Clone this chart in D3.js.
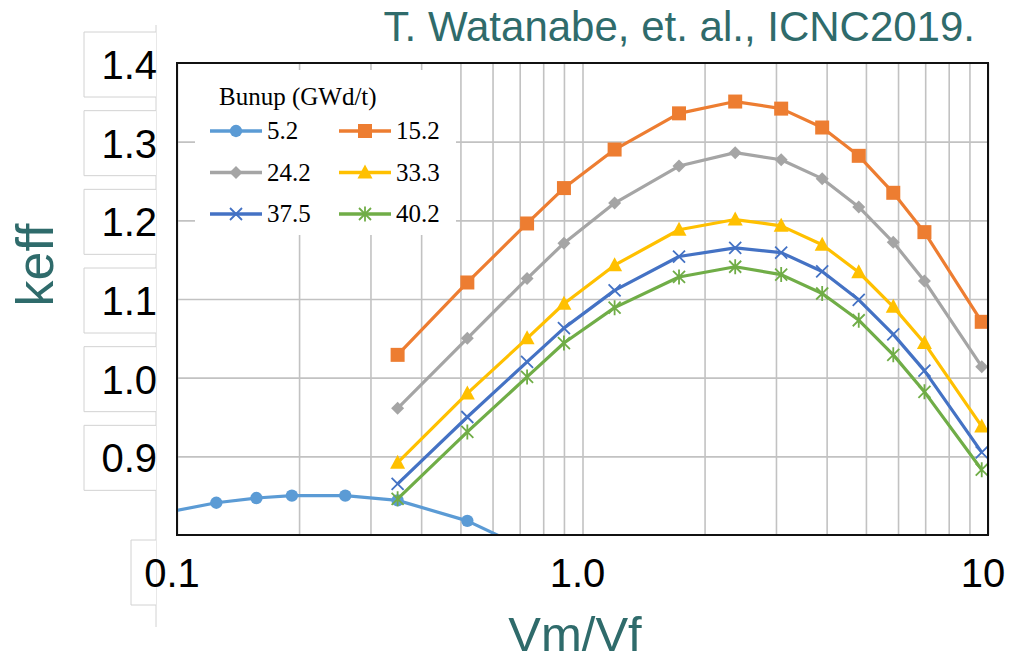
<!DOCTYPE html>
<html>
<head>
<meta charset="utf-8">
<script src="https://cdn.jsdelivr.net/npm/d3@7"></script>
<style>
  body { margin: 0; background: #fff; }
  svg { display: block; }
  .grid line { stroke: #c2c2c2; stroke-width: 1.6; }
  .grid path { display: none; }
  .tick-label { font-family: "Liberation Sans", Arial, sans-serif; font-size: 40px; fill: #000; }
  .axis-title { font-family: "Liberation Sans", Arial, sans-serif; fill: #2f6b6b; }
  .legend text { font-family: "Liberation Serif", "Times New Roman", serif; fill: #000; }
</style>
</head>
<body>
<div id="chart"></div>
<script>
// Vm/Vf sample points (shared by burnups >= 15.2)
var vmvf = [0.35, 0.52, 0.73, 0.90, 1.2, 1.73, 2.38, 3.09, 3.9, 4.8, 5.84, 6.97, 9.65];
// 5.2 GWd/t was run on its own grid
var vmvf52 = [0.095, 0.125, 0.157, 0.192, 0.26, 0.35, 0.52, 0.73];

var keff52   = [0.829, 0.841, 0.847, 0.850, 0.850, 0.844, 0.818, 0.782];
var keff152  = [1.029, 1.121, 1.196, 1.241, 1.290, 1.336, 1.351, 1.342, 1.318, 1.282, 1.235, 1.185, 1.071];
var keff242  = [0.961, 1.050, 1.126, 1.171, 1.222, 1.269, 1.286, 1.277, 1.253, 1.217, 1.172, 1.123, 1.014];
var keff333  = [0.892, 0.980, 1.050, 1.094, 1.143, 1.188, 1.201, 1.193, 1.169, 1.134, 1.090, 1.044, 0.938];
var keff375  = [0.865, 0.950, 1.020, 1.063, 1.111, 1.154, 1.165, 1.159, 1.135, 1.099, 1.055, 1.009, 0.905];
var keff402  = [0.846, 0.931, 1.001, 1.044, 1.089, 1.128, 1.141, 1.131, 1.107, 1.073, 1.029, 0.982, 0.883];

var burnups = ["5.2", "15.2", "24.2", "33.3", "37.5", "40.2"];
var yTickValues = [0.9, 1.0, 1.1, 1.2, 1.3, 1.4];
var xTickValues = [0.1, 1, 10];
var xTickText = ["0.1", "1.0", "10"];

var series = [
    { name: burnups[0], xs: vmvf52, ys: keff52,  color: "#5b9bd5", marker: "circle" },
    { name: burnups[1], xs: vmvf,   ys: keff152, color: "#ed7d31", marker: "square" },
    { name: burnups[2], xs: vmvf,   ys: keff242, color: "#a5a5a5", marker: "diamond" },
    { name: burnups[3], xs: vmvf,   ys: keff333, color: "#ffc000", marker: "triangle" },
    { name: burnups[4], xs: vmvf,   ys: keff375, color: "#4472c4", marker: "x" },
    { name: burnups[5], xs: vmvf,   ys: keff402, color: "#70ad47", marker: "star" }
];

var W = 1011, H = 664;
var plot = { left: 177, right: 988, top: 63, bottom: 535 };

var svg = d3.select("#chart").append("svg")
    .attr("width", W).attr("height", H);

var x = d3.scaleLog().domain([0.1, 10]).range([plot.left, plot.right]);
var y = d3.scaleLinear().domain([0.8, 1.4]).range([plot.bottom, plot.top]);

// marker shapes, centred on 0,0
function markerPath(type) {
    switch (type) {
        case "circle": return d3.symbol(d3.symbolCircle, 120)();
        case "square": return "M-7,-7h14v14h-14Z";
        case "diamond": return "M0,-6.5L6.5,0L0,6.5L-6.5,0Z";
        case "triangle": return "M0,-8L7.5,6L-7.5,6Z";
        case "x": return "M-6,-6L6,6M-6,6L6,-6";
        case "star": return "M-6,-6L6,6M-6,6L6,-6M0,-7.5V7.5";
    }
}
function isStroke(type) { return type == "x" || type == "star"; }

// gridlines
svg.append("g")
    .attr("class", "grid")
    .attr("transform", "translate(0," + plot.bottom + ")")
    .call(d3.axisBottom(x).ticks(10).tickSize(-(plot.bottom - plot.top)).tickFormat(""));
svg.append("g")
    .attr("class", "grid")
    .attr("transform", "translate(" + plot.left + ",0)")
    .call(d3.axisLeft(y).tickValues([0.9, 1.0, 1.1, 1.2, 1.3]).tickSize(-(plot.right - plot.left)).tickFormat(""));

// clip for the data
svg.append("clipPath").attr("id", "plotclip")
    .append("rect")
    .attr("x", plot.left).attr("y", plot.top)
    .attr("width", plot.right - plot.left).attr("height", plot.bottom - plot.top);

var dataG = svg.append("g").attr("clip-path", "url(#plotclip)");

var line = d3.line()
    .x(function(d) { return x(d[0]); })
    .y(function(d) { return y(d[1]); });

series.forEach(function(s) {
    var pts = s.xs.map(function(v, i) { return [v, s.ys[i]]; });
    dataG.append("path")
        .datum(pts)
        .attr("d", line)
        .attr("fill", "none")
        .attr("stroke", s.color)
        .attr("stroke-width", 3.2)
        .attr("stroke-linejoin", "round");
    dataG.selectAll(null)
        .data(pts)
        .enter().append("path")
        .attr("transform", function(d) { return "translate(" + x(d[0]) + "," + y(d[1]) + ")"; })
        .attr("d", markerPath(s.marker))
        .attr("fill", isStroke(s.marker) ? "none" : s.color)
        .attr("stroke", s.color)
        .attr("stroke-width", isStroke(s.marker) ? 1.8 : 0);
});

// plot border
svg.append("rect")
    .attr("x", plot.left).attr("y", plot.top)
    .attr("width", plot.right - plot.left).attr("height", plot.bottom - plot.top)
    .attr("fill", "none").attr("stroke", "#111").attr("stroke-width", 2);

// legend
var legend = svg.append("g").attr("class", "legend");
legend.append("rect")
    .attr("x", 195).attr("y", 70).attr("width", 261).attr("height", 165)
    .attr("fill", "#fff");
legend.append("text")
    .attr("x", 219).attr("y", 105)
    .style("font-size", "25px")
    .text("Bunup (GWd/t)");

var items = legend.selectAll(".item")
    .data(series)
    .enter().append("g")
    .attr("class", "item")
    .attr("transform", function(d, i) {
        return "translate(" + (210 + (i % 2) * 129) + "," + (131 + Math.floor(i / 2) * 41.5) + ")";
    });
items.append("line")
    .attr("x1", 0).attr("x2", 52)
    .attr("stroke", function(d) { return d.color; })
    .attr("stroke-width", 3.5);
items.append("path")
    .attr("transform", "translate(26,0)")
    .attr("d", function(d) { return markerPath(d.marker); })
    .attr("fill", function(d) { return isStroke(d.marker) ? "none" : d.color; })
    .attr("stroke", function(d) { return d.color; })
    .attr("stroke-width", function(d) { return isStroke(d.marker) ? 1.8 : 0; });
items.append("text")
    .attr("x", 57).attr("y", 8)
    .style("font-size", "25px")
    .text(function(d) { return d.name; });

// label boxes (pasted text frames) down the left side
var boxes = svg.append("g");
boxes.append("line")
    .attr("x1", 156).attr("x2", 156).attr("y1", 25).attr("y2", 627)
    .attr("stroke", "#d2d2d2").attr("stroke-width", 1);

yTickValues.forEach(function(v) {
    var base = y(v) + 16;
    boxes.append("rect")
        .attr("x", 84).attr("y", base - 47).attr("width", 72).attr("height", 65)
        .attr("fill", "#fff");
    boxes.append("path")
        .attr("d", "M156," + (base - 47) + "H84V" + (base + 18) + "H156")
        .attr("fill", "none").attr("stroke", "#d2d2d2").attr("stroke-width", 1);
    boxes.append("text")
        .attr("class", "tick-label")
        .attr("x", 157).attr("y", base)
        .attr("text-anchor", "end")
        .text(d3.format(".1f")(v));
});

xTickValues.forEach(function(v, i) {
    var base = 587;
    if (i == 0) {
        boxes.append("rect")
            .attr("x", x(v) - 46).attr("y", base - 47).attr("width", 25).attr("height", 65)
            .attr("fill", "#fff");
        boxes.append("path")
            .attr("d", "M156," + (base - 47) + "H" + (x(v) - 46) + "V" + (base + 18) + "H156")
            .attr("fill", "none").attr("stroke", "#d2d2d2").attr("stroke-width", 1);
    }
    boxes.append("text")
        .attr("class", "tick-label")
        .attr("x", x(v) - 5).attr("y", base)
        .attr("text-anchor", "middle")
        .text(xTickText[i]);
});

// axis titles and citation
svg.append("text")
    .attr("class", "axis-title")
    .attr("transform", "translate(53,265) rotate(-90)")
    .attr("text-anchor", "middle")
    .style("font-size", "52px")
    .text("keff");
svg.append("text")
    .attr("class", "axis-title")
    .attr("x", 575).attr("y", 651)
    .attr("text-anchor", "middle")
    .style("font-size", "49px")
    .text("Vm/Vf");
svg.append("text")
    .attr("class", "axis-title")
    .attr("x", 975).attr("y", 41)
    .attr("text-anchor", "end")
    .style("font-size", "42px")
    .text("T. Watanabe, et. al., ICNC2019.");
</script>
</body>
</html>
